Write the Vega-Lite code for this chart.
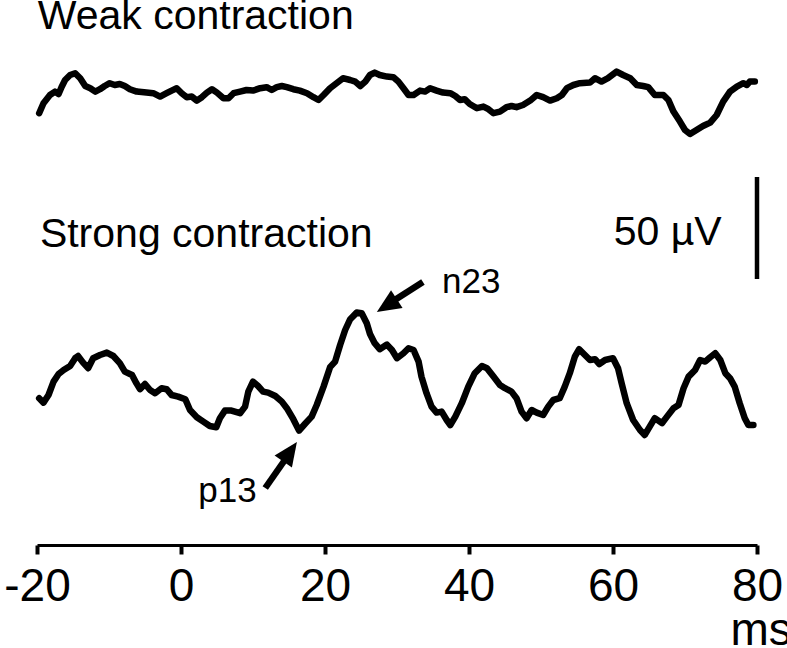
{
  "$schema": "https://vega.github.io/schema/vega-lite/v6.json",
  "width": 720,
  "height": 545,
  "autosize": {"type": "none"},
  "padding": {"left": 37, "top": 0, "right": 30, "bottom": 103},
  "background": "white",
  "config": {
    "view": {"stroke": null},
    "font": "Liberation Sans",
    "text": {"font": "Liberation Sans", "color": "black"}
  },
  "datasets": {
    "traces": [
      {"t": -19.7, "v": 215.9, "trace": "weak"}, {"t": -19.1, "v": 220.9, "trace": "weak"}, {"t": -18.2, "v": 225.0, "trace": "weak"}, {"t": -17.5, "v": 226.7, "trace": "weak"}, {"t": -17.0, "v": 225.5, "trace": "weak"}, {"t": -16.6, "v": 228.9, "trace": "weak"}, {"t": -16.1, "v": 232.5, "trace": "weak"}, {"t": -15.4, "v": 235.0, "trace": "weak"}, {"t": -14.7, "v": 235.9, "trace": "weak"}, {"t": -14.0, "v": 233.4, "trace": "weak"}, {"t": -13.3, "v": 229.5, "trace": "weak"}, {"t": -12.6, "v": 228.4, "trace": "weak"}, {"t": -11.9, "v": 226.7, "trace": "weak"}, {"t": -11.25, "v": 227.9, "trace": "weak"}, {"t": -10.6, "v": 229.5, "trace": "weak"}, {"t": -9.9, "v": 230.9, "trace": "weak"}, {"t": -9.2, "v": 230.0, "trace": "weak"}, {"t": -8.5, "v": 230.5, "trace": "weak"}, {"t": -7.8, "v": 229.5, "trace": "weak"}, {"t": -7.1, "v": 227.9, "trace": "weak"}, {"t": -6.15, "v": 226.7, "trace": "weak"}, {"t": -4.8, "v": 226.2, "trace": "weak"}, {"t": -3.85, "v": 225.9, "trace": "weak"}, {"t": -2.9, "v": 224.2, "trace": "weak"}, {"t": -2.0, "v": 225.9, "trace": "weak"}, {"t": -1.3, "v": 227.2, "trace": "weak"}, {"t": -0.6, "v": 228.4, "trace": "weak"}, {"t": 0.1, "v": 225.9, "trace": "weak"}, {"t": 0.8, "v": 223.9, "trace": "weak"}, {"t": 1.5, "v": 224.2, "trace": "weak"}, {"t": 2.2, "v": 222.2, "trace": "weak"}, {"t": 2.9, "v": 223.9, "trace": "weak"}, {"t": 3.6, "v": 226.2, "trace": "weak"}, {"t": 4.3, "v": 227.9, "trace": "weak"}, {"t": 5.0, "v": 226.2, "trace": "weak"}, {"t": 5.9, "v": 223.4, "trace": "weak"}, {"t": 6.6, "v": 223.4, "trace": "weak"}, {"t": 7.3, "v": 225.9, "trace": "weak"}, {"t": 8.2, "v": 226.7, "trace": "weak"}, {"t": 9.1, "v": 227.5, "trace": "weak"}, {"t": 10.0, "v": 227.2, "trace": "weak"}, {"t": 11.0, "v": 228.4, "trace": "weak"}, {"t": 11.9, "v": 228.9, "trace": "weak"}, {"t": 12.6, "v": 227.5, "trace": "weak"}, {"t": 13.3, "v": 228.9, "trace": "weak"}, {"t": 14.0, "v": 229.5, "trace": "weak"}, {"t": 14.7, "v": 228.9, "trace": "weak"}, {"t": 15.6, "v": 227.9, "trace": "weak"}, {"t": 16.5, "v": 227.2, "trace": "weak"}, {"t": 17.5, "v": 225.9, "trace": "weak"}, {"t": 18.4, "v": 223.9, "trace": "weak"}, {"t": 19.1, "v": 222.5, "trace": "weak"}, {"t": 19.8, "v": 225.0, "trace": "weak"}, {"t": 20.7, "v": 228.4, "trace": "weak"}, {"t": 21.6, "v": 230.9, "trace": "weak"}, {"t": 22.5, "v": 233.4, "trace": "weak"}, {"t": 23.5, "v": 232.5, "trace": "weak"}, {"t": 24.2, "v": 231.7, "trace": "weak"}, {"t": 24.9, "v": 229.5, "trace": "weak"}, {"t": 25.6, "v": 231.7, "trace": "weak"}, {"t": 26.25, "v": 235.0, "trace": "weak"}, {"t": 26.9, "v": 236.2, "trace": "weak"}, {"t": 27.6, "v": 235.0, "trace": "weak"}, {"t": 28.6, "v": 234.2, "trace": "weak"}, {"t": 29.5, "v": 233.9, "trace": "weak"}, {"t": 30.2, "v": 231.7, "trace": "weak"}, {"t": 30.9, "v": 228.4, "trace": "weak"}, {"t": 31.6, "v": 225.0, "trace": "weak"}, {"t": 32.3, "v": 225.0, "trace": "weak"}, {"t": 33.2, "v": 227.2, "trace": "weak"}, {"t": 33.9, "v": 226.7, "trace": "weak"}, {"t": 34.6, "v": 228.4, "trace": "weak"}, {"t": 35.5, "v": 227.2, "trace": "weak"}, {"t": 36.4, "v": 226.2, "trace": "weak"}, {"t": 37.4, "v": 225.9, "trace": "weak"}, {"t": 38.1, "v": 224.5, "trace": "weak"}, {"t": 38.75, "v": 222.5, "trace": "weak"}, {"t": 39.4, "v": 222.9, "trace": "weak"}, {"t": 40.1, "v": 220.5, "trace": "weak"}, {"t": 41.1, "v": 218.4, "trace": "weak"}, {"t": 42.0, "v": 219.2, "trace": "weak"}, {"t": 42.7, "v": 217.9, "trace": "weak"}, {"t": 43.4, "v": 215.9, "trace": "weak"}, {"t": 44.3, "v": 216.7, "trace": "weak"}, {"t": 45.2, "v": 218.9, "trace": "weak"}, {"t": 45.9, "v": 219.5, "trace": "weak"}, {"t": 46.6, "v": 218.9, "trace": "weak"}, {"t": 47.5, "v": 220.0, "trace": "weak"}, {"t": 48.5, "v": 222.2, "trace": "weak"}, {"t": 49.4, "v": 225.0, "trace": "weak"}, {"t": 50.3, "v": 223.9, "trace": "weak"}, {"t": 51.25, "v": 222.2, "trace": "weak"}, {"t": 52.2, "v": 223.4, "trace": "weak"}, {"t": 52.9, "v": 225.0, "trace": "weak"}, {"t": 53.6, "v": 228.4, "trace": "weak"}, {"t": 54.5, "v": 230.0, "trace": "weak"}, {"t": 55.4, "v": 230.9, "trace": "weak"}, {"t": 56.8, "v": 231.2, "trace": "weak"}, {"t": 57.5, "v": 233.4, "trace": "weak"}, {"t": 58.4, "v": 231.7, "trace": "weak"}, {"t": 59.3, "v": 233.4, "trace": "weak"}, {"t": 60.5, "v": 236.7, "trace": "weak"}, {"t": 61.4, "v": 235.0, "trace": "weak"}, {"t": 62.4, "v": 233.4, "trace": "weak"}, {"t": 63.3, "v": 230.0, "trace": "weak"}, {"t": 64.2, "v": 229.5, "trace": "weak"}, {"t": 64.9, "v": 228.9, "trace": "weak"}, {"t": 65.8, "v": 225.0, "trace": "weak"}, {"t": 67.0, "v": 225.0, "trace": "weak"}, {"t": 67.7, "v": 222.5, "trace": "weak"}, {"t": 68.4, "v": 216.7, "trace": "weak"}, {"t": 69.3, "v": 211.7, "trace": "weak"}, {"t": 70.0, "v": 207.5, "trace": "weak"}, {"t": 70.7, "v": 205.5, "trace": "weak"}, {"t": 71.6, "v": 207.5, "trace": "weak"}, {"t": 72.5, "v": 209.5, "trace": "weak"}, {"t": 73.5, "v": 211.2, "trace": "weak"}, {"t": 74.4, "v": 215.0, "trace": "weak"}, {"t": 75.3, "v": 221.7, "trace": "weak"}, {"t": 76.25, "v": 226.7, "trace": "weak"}, {"t": 77.2, "v": 229.2, "trace": "weak"}, {"t": 78.1, "v": 230.9, "trace": "weak"}, {"t": 78.6, "v": 230.0, "trace": "weak"}, {"t": 79.0, "v": 231.7, "trace": "weak"}, {"t": 79.7, "v": 231.7, "trace": "weak"},
      {"t": -19.7, "v": 73.4, "trace": "strong"}, {"t": -19.1, "v": 71.2, "trace": "strong"}, {"t": -18.4, "v": 75.0, "trace": "strong"}, {"t": -17.7, "v": 81.7, "trace": "strong"}, {"t": -17.0, "v": 85.5, "trace": "strong"}, {"t": -16.3, "v": 87.5, "trace": "strong"}, {"t": -15.4, "v": 89.5, "trace": "strong"}, {"t": -14.7, "v": 93.4, "trace": "strong"}, {"t": -14.3, "v": 94.5, "trace": "strong"}, {"t": -13.6, "v": 91.2, "trace": "strong"}, {"t": -12.9, "v": 88.4, "trace": "strong"}, {"t": -12.2, "v": 93.4, "trace": "strong"}, {"t": -11.25, "v": 95.0, "trace": "strong"}, {"t": -10.3, "v": 96.2, "trace": "strong"}, {"t": -9.4, "v": 94.5, "trace": "strong"}, {"t": -8.5, "v": 90.9, "trace": "strong"}, {"t": -7.8, "v": 86.7, "trace": "strong"}, {"t": -6.8, "v": 85.0, "trace": "strong"}, {"t": -6.2, "v": 80.9, "trace": "strong"}, {"t": -5.7, "v": 77.9, "trace": "strong"}, {"t": -5.0, "v": 80.5, "trace": "strong"}, {"t": -4.3, "v": 77.5, "trace": "strong"}, {"t": -3.6, "v": 75.9, "trace": "strong"}, {"t": -2.7, "v": 78.4, "trace": "strong"}, {"t": -2.0, "v": 77.9, "trace": "strong"}, {"t": -1.3, "v": 75.0, "trace": "strong"}, {"t": -0.4, "v": 74.2, "trace": "strong"}, {"t": 0.6, "v": 72.9, "trace": "strong"}, {"t": 1.25, "v": 67.5, "trace": "strong"}, {"t": 2.2, "v": 63.9, "trace": "strong"}, {"t": 3.1, "v": 61.7, "trace": "strong"}, {"t": 4.0, "v": 59.5, "trace": "strong"}, {"t": 4.9, "v": 58.9, "trace": "strong"}, {"t": 5.4, "v": 63.4, "trace": "strong"}, {"t": 6.1, "v": 67.2, "trace": "strong"}, {"t": 7.0, "v": 67.2, "trace": "strong"}, {"t": 8.2, "v": 65.9, "trace": "strong"}, {"t": 8.9, "v": 69.2, "trace": "strong"}, {"t": 9.35, "v": 76.7, "trace": "strong"}, {"t": 10.0, "v": 81.7, "trace": "strong"}, {"t": 10.7, "v": 79.5, "trace": "strong"}, {"t": 11.4, "v": 76.7, "trace": "strong"}, {"t": 12.1, "v": 76.2, "trace": "strong"}, {"t": 13.1, "v": 74.5, "trace": "strong"}, {"t": 14.0, "v": 71.7, "trace": "strong"}, {"t": 14.7, "v": 68.4, "trace": "strong"}, {"t": 15.6, "v": 62.9, "trace": "strong"}, {"t": 16.4, "v": 57.2, "trace": "strong"}, {"t": 17.2, "v": 60.5, "trace": "strong"}, {"t": 18.15, "v": 64.2, "trace": "strong"}, {"t": 18.85, "v": 70.0, "trace": "strong"}, {"t": 19.8, "v": 79.2, "trace": "strong"}, {"t": 20.7, "v": 88.9, "trace": "strong"}, {"t": 21.4, "v": 91.7, "trace": "strong"}, {"t": 22.1, "v": 100.0, "trace": "strong"}, {"t": 22.8, "v": 107.5, "trace": "strong"}, {"t": 23.5, "v": 112.9, "trace": "strong"}, {"t": 24.4, "v": 116.2, "trace": "strong"}, {"t": 25.1, "v": 115.9, "trace": "strong"}, {"t": 25.8, "v": 110.9, "trace": "strong"}, {"t": 26.25, "v": 105.5, "trace": "strong"}, {"t": 26.9, "v": 100.9, "trace": "strong"}, {"t": 27.6, "v": 97.9, "trace": "strong"}, {"t": 28.6, "v": 100.2, "trace": "strong"}, {"t": 29.3, "v": 97.5, "trace": "strong"}, {"t": 30.0, "v": 93.4, "trace": "strong"}, {"t": 30.9, "v": 95.9, "trace": "strong"}, {"t": 31.6, "v": 98.4, "trace": "strong"}, {"t": 32.3, "v": 97.5, "trace": "strong"}, {"t": 33.0, "v": 91.7, "trace": "strong"}, {"t": 33.4, "v": 84.2, "trace": "strong"}, {"t": 34.1, "v": 75.9, "trace": "strong"}, {"t": 34.8, "v": 69.2, "trace": "strong"}, {"t": 35.5, "v": 66.2, "trace": "strong"}, {"t": 36.2, "v": 66.7, "trace": "strong"}, {"t": 36.9, "v": 62.5, "trace": "strong"}, {"t": 37.4, "v": 60.0, "trace": "strong"}, {"t": 38.1, "v": 64.2, "trace": "strong"}, {"t": 39.0, "v": 70.9, "trace": "strong"}, {"t": 39.9, "v": 79.2, "trace": "strong"}, {"t": 40.8, "v": 85.9, "trace": "strong"}, {"t": 41.8, "v": 89.5, "trace": "strong"}, {"t": 42.5, "v": 88.4, "trace": "strong"}, {"t": 43.4, "v": 84.2, "trace": "strong"}, {"t": 44.3, "v": 80.0, "trace": "strong"}, {"t": 45.0, "v": 78.4, "trace": "strong"}, {"t": 45.9, "v": 76.7, "trace": "strong"}, {"t": 46.6, "v": 73.4, "trace": "strong"}, {"t": 47.3, "v": 66.7, "trace": "strong"}, {"t": 48.0, "v": 63.4, "trace": "strong"}, {"t": 48.7, "v": 67.5, "trace": "strong"}, {"t": 49.4, "v": 66.2, "trace": "strong"}, {"t": 50.3, "v": 65.0, "trace": "strong"}, {"t": 51.0, "v": 69.2, "trace": "strong"}, {"t": 51.7, "v": 72.5, "trace": "strong"}, {"t": 52.6, "v": 73.4, "trace": "strong"}, {"t": 53.3, "v": 79.2, "trace": "strong"}, {"t": 54.0, "v": 85.9, "trace": "strong"}, {"t": 54.7, "v": 94.2, "trace": "strong"}, {"t": 55.3, "v": 97.9, "trace": "strong"}, {"t": 56.1, "v": 95.0, "trace": "strong"}, {"t": 56.8, "v": 92.5, "trace": "strong"}, {"t": 57.5, "v": 92.9, "trace": "strong"}, {"t": 58.1, "v": 90.5, "trace": "strong"}, {"t": 58.9, "v": 92.5, "trace": "strong"}, {"t": 60.0, "v": 93.4, "trace": "strong"}, {"t": 60.7, "v": 88.4, "trace": "strong"}, {"t": 61.2, "v": 80.9, "trace": "strong"}, {"t": 61.9, "v": 70.9, "trace": "strong"}, {"t": 62.8, "v": 62.5, "trace": "strong"}, {"t": 63.75, "v": 57.5, "trace": "strong"}, {"t": 64.4, "v": 55.0, "trace": "strong"}, {"t": 65.1, "v": 59.2, "trace": "strong"}, {"t": 65.8, "v": 63.4, "trace": "strong"}, {"t": 66.8, "v": 60.9, "trace": "strong"}, {"t": 67.5, "v": 64.2, "trace": "strong"}, {"t": 68.4, "v": 68.4, "trace": "strong"}, {"t": 69.1, "v": 70.0, "trace": "strong"}, {"t": 69.8, "v": 78.4, "trace": "strong"}, {"t": 70.5, "v": 84.2, "trace": "strong"}, {"t": 71.4, "v": 87.5, "trace": "strong"}, {"t": 72.1, "v": 92.5, "trace": "strong"}, {"t": 72.8, "v": 91.7, "trace": "strong"}, {"t": 73.5, "v": 93.9, "trace": "strong"}, {"t": 74.2, "v": 95.9, "trace": "strong"}, {"t": 74.9, "v": 92.5, "trace": "strong"}, {"t": 75.6, "v": 85.9, "trace": "strong"}, {"t": 76.25, "v": 83.4, "trace": "strong"}, {"t": 76.9, "v": 79.2, "trace": "strong"}, {"t": 77.6, "v": 70.9, "trace": "strong"}, {"t": 78.3, "v": 63.4, "trace": "strong"}, {"t": 78.8, "v": 60.0, "trace": "strong"}, {"t": 79.5, "v": 60.0, "trace": "strong"}
    ],
    "labels": [
      {"t": -19.9, "v": 258, "label": "Weak contraction", "size": "big", "align": "left"},
      {"t": -19.6, "v": 149, "label": "Strong contraction", "size": "big", "align": "left"},
      {"t": 75.1, "v": 150, "label": "50 µV", "size": "big", "align": "right"},
      {"t": 36.25, "v": 126, "label": "n23", "size": "small", "align": "left"},
      {"t": 2.4, "v": 21.5, "label": "p13", "size": "small", "align": "left"}
    ],
    "scalebar": [{"t": 80, "v": 133, "v2": 184}],
    "arrows": [
      {"name": "n23", "t": 33.6, "v": 131.5, "t2": 28.6, "v2": 120, "ht": 27.2, "hv": 116.5, "angle": 237},
      {"name": "p13", "t": 11.7, "v": 28.5, "t2": 15.2, "v2": 46.5, "ht": 16.1, "hv": 51.5, "angle": 35}
    ]
  },
  "layer": [
    {
      "data": {"name": "traces"},
      "mark": {"type": "line", "color": "black", "strokeWidth": 6.5, "strokeJoin": "round", "strokeCap": "round"},
      "encoding": {
        "x": {
          "field": "t", "type": "quantitative",
          "scale": {"domain": [-20, 80], "nice": false, "zero": false},
          "axis": {
            "values": [-20, 0, 20, 40, 60, 80],
            "labelExpr": "'' + datum.value",
            "title": "ms",
            "titleFont": "Liberation Sans",
            "titleFontSize": 46,
            "titleFontWeight": "normal",
            "titleColor": "black",
            "titleAlign": "left",
            "titleBaseline": "alphabetic",
            "titleX": 693,
            "titleY": 99,
            "grid": false,
            "domainColor": "black",
            "domainWidth": 3,
            "tickColor": "black",
            "tickWidth": 4,
            "tickSize": 9,
            "labelFont": "Liberation Sans",
            "labelFontSize": 46,
            "labelColor": "black",
            "labelPadding": 10,
            "labelFlush": false,
            "labelOverlap": false
          }
        },
        "y": {
          "field": "v", "type": "quantitative",
          "scale": {"domain": [0, 272.5], "nice": false, "zero": false},
          "axis": null
        },
        "detail": {"field": "trace"}
      }
    },
    {
      "data": {"name": "scalebar"},
      "mark": {"type": "rule", "color": "black", "strokeWidth": 4.5},
      "encoding": {
        "x": {"field": "t", "type": "quantitative"},
        "y": {"field": "v", "type": "quantitative"},
        "y2": {"field": "v2"}
      }
    },
    {
      "data": {"name": "labels"},
      "transform": [{"filter": "datum.size == 'big' && datum.align == 'left'"}],
      "mark": {"type": "text", "align": "left", "baseline": "alphabetic", "fontSize": 41, "color": "black"},
      "encoding": {
        "x": {"field": "t", "type": "quantitative"},
        "y": {"field": "v", "type": "quantitative"},
        "text": {"field": "label"}
      }
    },
    {
      "data": {"name": "labels"},
      "transform": [{"filter": "datum.size == 'big' && datum.align == 'right'"}],
      "mark": {"type": "text", "align": "right", "baseline": "alphabetic", "fontSize": 41, "color": "black"},
      "encoding": {
        "x": {"field": "t", "type": "quantitative"},
        "y": {"field": "v", "type": "quantitative"},
        "text": {"field": "label"}
      }
    },
    {
      "data": {"name": "labels"},
      "transform": [{"filter": "datum.size == 'small'"}],
      "mark": {"type": "text", "align": "left", "baseline": "alphabetic", "fontSize": 35, "color": "black"},
      "encoding": {
        "x": {"field": "t", "type": "quantitative"},
        "y": {"field": "v", "type": "quantitative"},
        "text": {"field": "label"}
      }
    },
    {
      "data": {"name": "arrows"},
      "mark": {"type": "rule", "color": "black", "strokeWidth": 6.5},
      "encoding": {
        "x": {"field": "t", "type": "quantitative"},
        "y": {"field": "v", "type": "quantitative"},
        "x2": {"field": "t2"},
        "y2": {"field": "v2"}
      }
    },
    {
      "data": {"name": "arrows"},
      "mark": {"type": "point", "filled": true, "color": "black", "opacity": 1, "shape": "M0,0L-0.8,1.8L0.8,1.8Z", "size": 700},
      "encoding": {
        "x": {"field": "ht", "type": "quantitative"},
        "y": {"field": "hv", "type": "quantitative"},
        "angle": {"field": "angle", "type": "quantitative", "scale": null}
      }
    }
  ]
}
